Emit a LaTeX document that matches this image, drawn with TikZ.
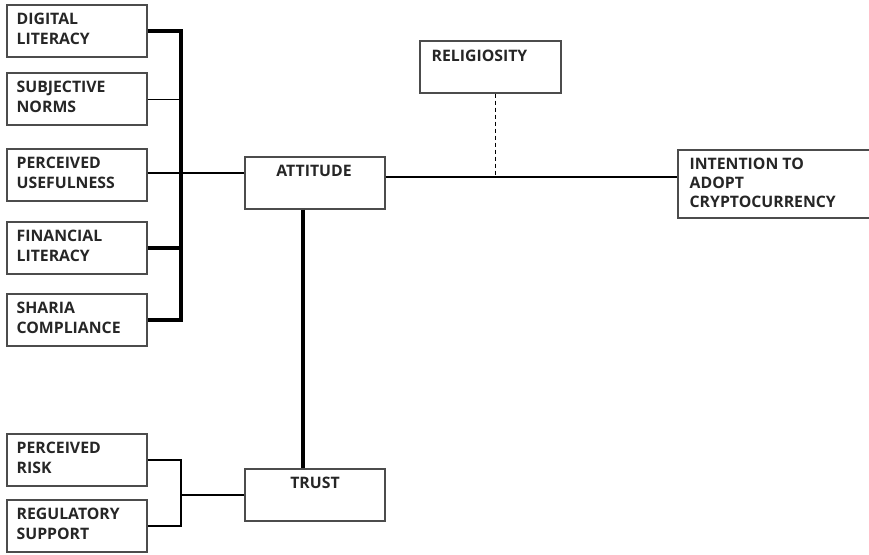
\documentclass[tikz,border=0pt]{standalone}
\usepackage{fontspec}
\setmainfont{Open Sans}
\begin{document}
\begin{tikzpicture}[x=1pt,y=-1pt,
  box/.style={draw=black!70, line width=1.1pt, fill=white, inner sep=0pt,
              minimum width=140pt, minimum height=52pt},
  lbl/.style={inner sep=0pt, align=left, font=\fontsize{15.8}{20}\selectfont\bfseries, text=black!85},
  heavy/.style={line width=3.2pt},
  medium/.style={line width=2pt},
  light/.style={line width=0.9pt},
  dashline/.style={line width=1pt, dash pattern=on 4pt off 3pt}]
\useasboundingbox (0,0) rectangle (869,554);
\fill[white] (0,0) rectangle (869,554);

% bus positions
\coordinate (bus) at (181,0);

% determinant boxes
\node[box] (dl) at (77,31) {};
\node[box] (sn) at (77,99) {};
\node[box] (pu) at (77,175) {};
\node[box] (fl) at (77,248) {};
\node[box] (sc) at (77,320) {};
\node[box] (pr) at (77,460) {};
\node[box] (rs) at (77,526) {};

% central and outcome boxes
\node[box] (att) at (315,183) {};
\node[box] (tr)  at (315,495) {};
\node[box, minimum width=141pt] (rel) at (490.5,67) {};
\node[box, minimum width=200pt, minimum height=68pt] (int) at (778,184) {};

% labels
\node[lbl, anchor=north west] (dlt) at ([shift={(10,8)}]dl.north west) {DIGITAL\\LITERACY};
\node[lbl, anchor=north west] (snt) at ([shift={(10,8)}]sn.north west) {SUBJECTIVE\\NORMS};
\node[lbl, anchor=north west] (put) at ([shift={(10,8)}]pu.north west) {PERCEIVED\\USEFULNESS};
\node[lbl, anchor=north west] (flt) at ([shift={(10,8)}]fl.north west) {FINANCIAL\\LITERACY};
\node[lbl, anchor=north west] (sct) at ([shift={(10,8)}]sc.north west) {SHARIA\\COMPLIANCE};
\node[lbl, anchor=north west] (prt) at ([shift={(10,8)}]pr.north west) {PERCEIVED\\RISK};
\node[lbl, anchor=north west] (rst) at ([shift={(10,8)}]rs.north west) {REGULATORY\\SUPPORT};
\node[lbl, anchor=north] (attt) at ([shift={(-1,9)}]att.north) {ATTITUDE};
\node[lbl, anchor=north] (trt) at ([shift={(0,8)}]tr.north) {TRUST};
\node[lbl, anchor=north west] (relt) at ([shift={(12,9)}]rel.north west) {RELIGIOSITY};
\node[lbl, anchor=north west, font=\fontsize{15.8}{19}\selectfont\bfseries] (intt)
  at ([shift={(12,8)}]int.north west) {INTENTION TO\\ADOPT\\CRYPTOCURRENCY};

% upper bus: determinants joined at x = 181
\draw[heavy] (dl.east) -- (dl.east -| bus) -- (sc.east -| bus) -- (sc.east);
\draw[heavy] (fl.east) -- (fl.east -| bus);
\draw[light] (sn.east) -- (sn.east -| bus);
\draw[medium] ([yshift=2]pu.east) -- ([yshift=2]pu.east -| att.west);

% attitude to intention, moderated by religiosity
\coordinate (mainline) at (0,177);
\draw[medium] (att.east |- mainline) -- (int.west |- mainline);
\draw[dashline] ([xshift=5]rel.south) -- ([xshift=5]rel.south |- mainline);

% attitude to trust
\draw[heavy] ([xshift=-12]att.south) -- ([xshift=-12]tr.north);

% lower bus: risk and regulation into trust
\draw[medium] (pr.east) -- (pr.east -| bus) -- (rs.east -| bus) -- (rs.east);
\draw[medium] (tr.west) -- (tr.west -| bus);
\end{tikzpicture}
\end{document}
